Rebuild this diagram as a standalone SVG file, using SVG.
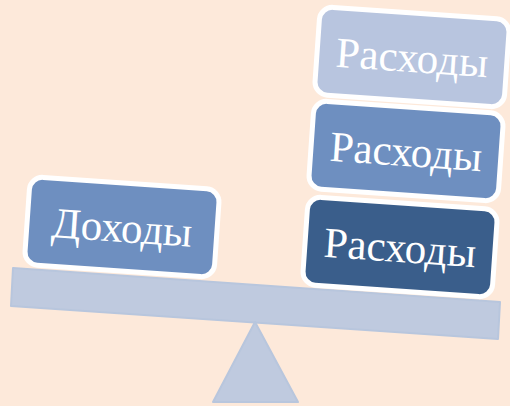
<svg xmlns="http://www.w3.org/2000/svg" width="510" height="406" viewBox="0 0 510 406">
<style>
.bg{fill:#FDE9DA}
.scale{fill:#BFCADF;stroke:#B8C6DD;stroke-width:2;stroke-linejoin:round}
.box{stroke:#FFFFFF;stroke-width:5}
.light{fill:#B8C5DF}
.mid{fill:#6E8FC0}
.dark{fill:#3A5E8B}
.lbl{font-family:"Liberation Serif","Times New Roman",serif;font-size:43px;fill:#FFFFFF;text-anchor:middle}
</style>
<rect class="bg" x="0" y="0" width="510" height="406"/>
<g id="scale">
<polygon class="scale" points="13,268 500,302 498,339 11,306"/>
<polygon class="scale" points="255,322 298,402 213,402"/>
</g>
<g id="income" transform="translate(122,227) rotate(4)">
<rect class="box mid" x="-95" y="-44" width="190" height="88" rx="13"/>
<text class="lbl" x="0" y="15">Доходы</text>
</g>
<g id="expense1" transform="translate(400,247) rotate(4)">
<rect class="box dark" x="-95" y="-44" width="190" height="88" rx="13"/>
<text class="lbl" x="0" y="15">Расходы</text>
</g>
<g id="expense2" transform="translate(406,151) rotate(4)">
<rect class="box mid" x="-95" y="-44" width="190" height="88" rx="13"/>
<text class="lbl" x="0" y="15">Расходы</text>
</g>
<g id="expense3" transform="translate(412,57) rotate(4)">
<rect class="box light" x="-95" y="-44" width="190" height="88" rx="13"/>
<text class="lbl" x="0" y="15">Расходы</text>
</g>
<g id="connectors"/>
</svg>
